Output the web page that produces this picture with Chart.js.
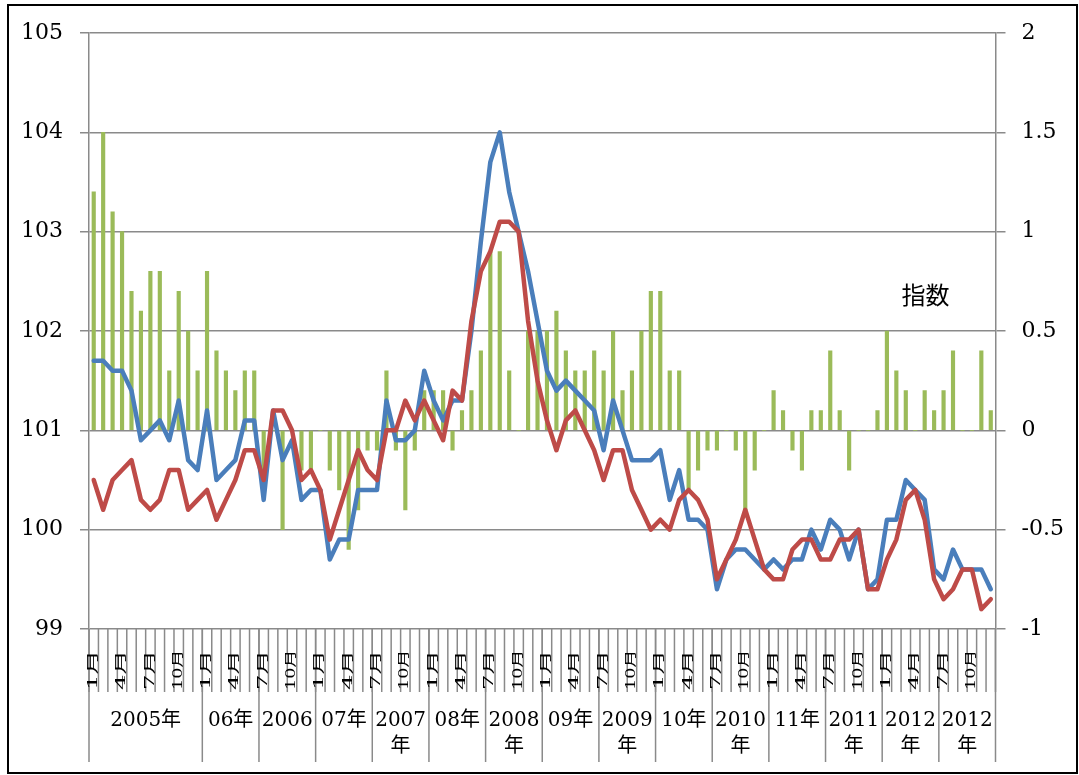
<!DOCTYPE html>
<html>
<head>
<meta charset="utf-8">
<script src="https://cdn.jsdelivr.net/npm/chart.js@4"></script>
<style>
  body { margin: 0; background: #fff; }
  #wrap { position: relative; width: 1079px; height: 775px; }
  #frame { position: absolute; left: 7px; top: 4px; width: 1067px; height: 766px; border: 2px solid #000; }
  #c { position: absolute; left: 0; top: 0; }
</style>
</head>
<body>
<div id="wrap">
  <div id="frame"></div>
  <canvas id="c" width="1079" height="775"></canvas>
</div>
<script>
// monthly series, Jan 2005 .. Dec 2012
const SERIES_BLUE = [
  101.7, 101.7, 101.6, 101.6, 101.4, 100.9, 101.0, 101.1, 100.9, 101.3, 100.7, 100.6,
  101.2, 100.5, 100.6, 100.7, 101.1, 101.1, 100.3, 101.2, 100.7, 100.9, 100.3, 100.4,
  100.4, 99.7, 99.9, 99.9, 100.4, 100.4, 100.4, 101.3, 100.9, 100.9, 101.0, 101.6,
  101.3, 101.1, 101.3, 101.3, 102.0, 102.9, 103.7, 104.0, 103.4, 103.0, 102.6, 102.1,
  101.6, 101.4, 101.5, 101.4, 101.3, 101.2, 100.8, 101.3, 101.0, 100.7, 100.7, 100.7,
  100.8, 100.3, 100.6, 100.1, 100.1, 100.0, 99.4, 99.7, 99.8, 99.8, 99.7, 99.6,
  99.7, 99.6, 99.7, 99.7, 100.0, 99.8, 100.1, 100.0, 99.7, 100.0, 99.4, 99.5,
  100.1, 100.1, 100.5, 100.4, 100.3, 99.6, 99.5, 99.8, 99.6, 99.6, 99.6, 99.4,
];
const SERIES_RED = [
  100.5, 100.2, 100.5, 100.6, 100.7, 100.3, 100.2, 100.3, 100.6, 100.6, 100.2, 100.3,
  100.4, 100.1, 100.3, 100.5, 100.8, 100.8, 100.5, 101.2, 101.2, 101.0, 100.5, 100.6,
  100.4, 99.9, 100.2, 100.5, 100.8, 100.6, 100.5, 101.0, 101.0, 101.3, 101.1, 101.3,
  101.1, 100.9, 101.4, 101.3, 102.1, 102.6, 102.8, 103.1, 103.1, 103.0, 102.1, 101.5,
  101.1, 100.8, 101.1, 101.2, 101.0, 100.8, 100.5, 100.8, 100.8, 100.4, 100.2, 100.0,
  100.1, 100.0, 100.3, 100.4, 100.3, 100.1, 99.5, 99.7, 99.9, 100.2, 99.9, 99.6,
  99.5, 99.5, 99.8, 99.9, 99.9, 99.7, 99.7, 99.9, 99.9, 100.0, 99.4, 99.4,
  99.7, 99.9, 100.3, 100.4, 100.1, 99.5, 99.3, 99.4, 99.6, 99.6, 99.2, 99.3,
];
const SERIES_GAP = [
  1.2, 1.5, 1.1, 1.0, 0.7, 0.6, 0.8, 0.8, 0.3, 0.7, 0.5, 0.3,
  0.8, 0.4, 0.3, 0.2, 0.3, 0.3, -0.3, 0, -0.5, 0, -0.2, -0.2,
  0, -0.2, -0.3, -0.6, -0.4, -0.1, -0.1, 0.3, -0.1, -0.4, -0.1, 0.2,
  0.2, 0.2, -0.1, 0.1, 0.2, 0.4, 0.9, 0.9, 0.3, 0, 0.5, 0.5,
  0.5, 0.6, 0.4, 0.3, 0.3, 0.4, 0.3, 0.5, 0.2, 0.3, 0.5, 0.7,
  0.7, 0.3, 0.3, -0.3, -0.2, -0.1, -0.1, 0, -0.1, -0.4, -0.2, 0,
  0.2, 0.1, -0.1, -0.2, 0.1, 0.1, 0.4, 0.1, -0.2, 0, 0, 0.1,
  0.5, 0.3, 0.2, 0, 0.2, 0.1, 0.2, 0.4, 0, 0, 0.4, 0.1,
];

const YEARS = [2005, 2006, 2007, 2008, 2009, 2010, 2011, 2012];
const MONTH_TICKS = ['1月', '4月', '7月', '10月'];   // every third month
const GROUP_LABELS = [
  ['2005年'], ['06年'], ['2006'], ['07年'], ['2007', '年'], ['08年'], ['2008', '年'],
  ['09年'], ['2009', '年'], ['10年'], ['2010', '年'], ['11年'], ['2011', '年'],
  ['2012', '年'], ['2012', '年'],
];
const GROUP_MONTHS = [12, 6, 6, 6, 6, 6, 6, 6, 6, 6, 6, 6, 6, 6, 6];
const NOTE = { text: '指数', month: 88.1, value: 0.68 };

const labels = [];
YEARS.forEach((y) => { for (let m = 1; m <= 12; m++) labels.push(`${y}/${m}`); });

const SERIF = '"DejaVu Serif", "Noto Sans CJK JP", serif';
const GRID = '#8a8a8a';

const xAxisDecor = {
  id: 'xAxisDecor',
  afterDraw(chart) {
    const { ctx, chartArea: a, scales: { x, y2 } } = chart;
    const step = x.getPixelForValue(1) - x.getPixelForValue(0);
    const edge = (i) => x.getPixelForValue(0) - step / 2 + i * step;
    const vline = (px, y0, y1) => {
      ctx.beginPath(); ctx.moveTo(px, y0); ctx.lineTo(px, y1); ctx.stroke();
    };
    ctx.save();
    ctx.strokeStyle = GRID;
    ctx.lineWidth = 1.5;
    for (let i = 0; i <= labels.length; i++) vline(edge(i), a.bottom, a.bottom + 63);

    let k = 0;
    ctx.fillStyle = '#000';
    ctx.font = `20px ${SERIF}`;
    ctx.textAlign = 'center';
    ctx.textBaseline = 'middle';
    vline(edge(0), a.bottom, a.bottom + 133);
    GROUP_LABELS.forEach((lines, g) => {
      const start = k;
      k += GROUP_MONTHS[g];
      vline(edge(k), a.bottom, a.bottom + 133);
      const cx = (edge(start) + edge(k)) / 2;
      lines.forEach((t, j) => ctx.fillText(t, cx, a.bottom + 92 + j * 26));
    });

    // month labels, rotated, squeezed into the comb
    ctx.font = `12px ${SERIF}`;
    ctx.textAlign = 'left';
    labels.forEach((_, i) => {
      if (i % 3) return;
      const t = MONTH_TICKS[(i % 12) / 3];
      ctx.save();
      ctx.translate(x.getPixelForValue(i), a.bottom + 61);
      ctx.rotate(-Math.PI / 2);
      ctx.scale(40 / ctx.measureText(t).width, 1);
      ctx.fillText(t, 0, 0);
      ctx.restore();
    });

    ctx.font = '24px "Noto Sans CJK JP", sans-serif';
    ctx.textAlign = 'center';
    ctx.fillText(NOTE.text, x.getPixelForValue(NOTE.month), y2.getPixelForValue(NOTE.value));
    ctx.restore();
  },
};

new Chart(document.getElementById('c'), {
  type: 'bar',
  data: {
    labels,
    datasets: [
      {
        type: 'line', label: 'blue', data: SERIES_BLUE, yAxisID: 'y', order: 1,
        borderColor: '#4A7EBB', borderWidth: 4.5, pointRadius: 0, tension: 0,
        borderJoinStyle: 'round', borderCapStyle: 'round',
      },
      {
        type: 'line', label: 'red', data: SERIES_RED, yAxisID: 'y', order: 0,
        borderColor: '#BE4B48', borderWidth: 4.5, pointRadius: 0, tension: 0,
        borderJoinStyle: 'round', borderCapStyle: 'round',
      },
      {
        label: 'gap', data: SERIES_GAP, yAxisID: 'y2', order: 2,
        backgroundColor: '#9BBB59', barThickness: 3.5,
      },
    ],
  },
  options: {
    responsive: false,
    devicePixelRatio: 1,
    animation: false,
    layout: { padding: { top: 33, left: 0, right: 0, bottom: 0 } },
    plugins: { legend: { display: false }, tooltip: { enabled: false } },
    scales: {
      x: {
        offset: true,
        grid: { display: false },
        border: { display: false },
        ticks: { display: false },
        afterFit: (s) => { s.height = 146; },
      },
      y: {
        position: 'left', min: 99, max: 105,
        ticks: { stepSize: 1, color: '#000', padding: 17, font: { family: SERIF, size: 22 } },
        grid: { color: GRID, lineWidth: 1.5, tickLength: 9 },
        border: { color: GRID, width: 1.5 },
        afterFit: (s) => { s.width = 89; },
      },
      y2: {
        position: 'right', min: -1, max: 2,
        ticks: {
          stepSize: 0.5, color: '#000', padding: 16, font: { family: SERIF, size: 22 },
          callback: (v) => String(v),
        },
        grid: { drawOnChartArea: false, color: GRID, lineWidth: 1.5, tickLength: 10 },
        border: { color: GRID, width: 1.5 },
        afterFit: (s) => { s.width = 83.5; },
      },
    },
  },
  plugins: [xAxisDecor],
});
</script>
</body>
</html>
